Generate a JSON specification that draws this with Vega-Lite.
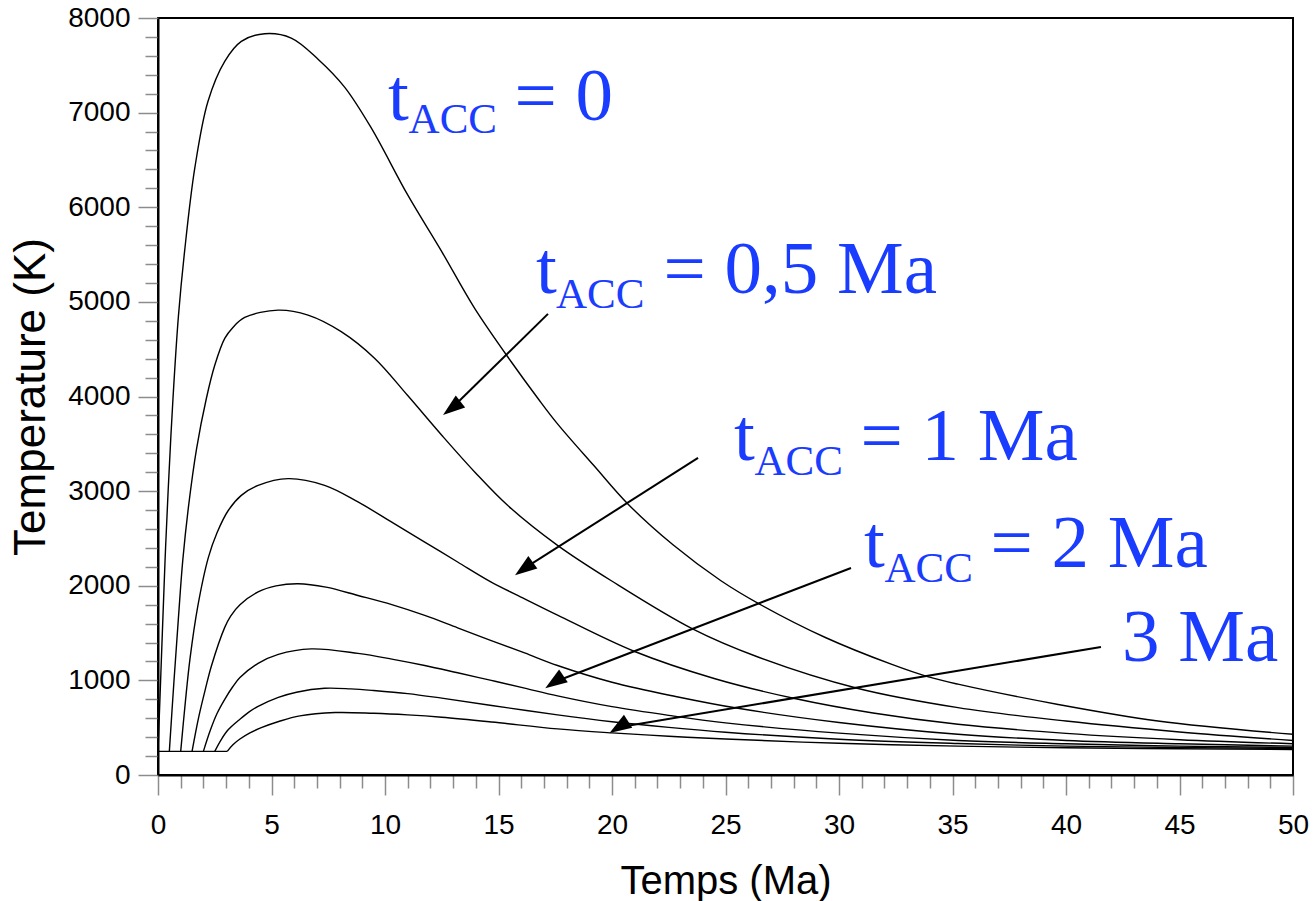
{
  "$schema": "https://vega.github.io/schema/vega-lite/v6.json",
  "width": 1135,
  "height": 757,
  "autosize": {"type": "none"},
  "padding": {"left": 158, "top": 18, "right": 22, "bottom": 126},
  "background": "white",
  "datasets": {
    "curves": [
      {"curve":"tacc 0","time":0,"temp":250},{"curve":"tacc 0","time":0.1,"temp":900},{"curve":"tacc 0","time":0.2,"temp":1560},{"curve":"tacc 0","time":0.31,"temp":2265},{"curve":"tacc 0","time":0.45,"temp":3020},{"curve":"tacc 0","time":0.66,"temp":3979},{"curve":"tacc 0","time":0.9,"temp":4850},{"curve":"tacc 0","time":1.17,"temp":5531},{"curve":"tacc 0","time":1.62,"temp":6413},{"curve":"tacc 0","time":2.2,"temp":7118},{"curve":"tacc 0","time":2.94,"temp":7542},{"curve":"tacc 0","time":3.67,"temp":7753},{"curve":"tacc 0","time":4.7,"temp":7834},{"curve":"tacc 0","time":5.87,"temp":7788},{"curve":"tacc 0","time":7.05,"temp":7565},{"curve":"tacc 0","time":8.22,"temp":7270},{"curve":"tacc 0","time":9.4,"temp":6836},{"curve":"tacc 0","time":11.0,"temp":6130},{"curve":"tacc 0","time":12.5,"temp":5531},{"curve":"tacc 0","time":13.95,"temp":4931},{"curve":"tacc 0","time":15.56,"temp":4367},{"curve":"tacc 0","time":16.74,"temp":3979},{"curve":"tacc 0","time":17.6,"temp":3711},{"curve":"tacc 0","time":19.2,"temp":3270},{"curve":"tacc 0","time":20.7,"temp":2864},{"curve":"tacc 0","time":22.7,"temp":2430},{"curve":"tacc 0","time":24.8,"temp":2053},{"curve":"tacc 0","time":26.5,"temp":1806},{"curve":"tacc 0","time":29.4,"temp":1453},{"curve":"tacc 0","time":32.3,"temp":1171},{"curve":"tacc 0","time":33.9,"temp":1040},{"curve":"tacc 0","time":35.24,"temp":960},{"curve":"tacc 0","time":39.6,"temp":748},{"curve":"tacc 0","time":44.05,"temp":571},{"curve":"tacc 0","time":50,"temp":430},

      {"curve":"tacc 0.5","time":0.5,"temp":250},{"curve":"tacc 0.5","time":0.7,"temp":980},{"curve":"tacc 0.5","time":0.9,"temp":1660},{"curve":"tacc 0.5","time":1.09,"temp":2265},{"curve":"tacc 0.5","time":1.35,"temp":2850},{"curve":"tacc 0.5","time":1.7,"temp":3450},{"curve":"tacc 0.5","time":2.13,"temp":3979},{"curve":"tacc 0.5","time":2.5,"temp":4330},{"curve":"tacc 0.5","time":2.94,"temp":4614},{"curve":"tacc 0.5","time":3.3,"temp":4730},{"curve":"tacc 0.5","time":3.82,"temp":4835},{"curve":"tacc 0.5","time":5.29,"temp":4913},{"curve":"tacc 0.5","time":6.61,"temp":4860},{"curve":"tacc 0.5","time":8.07,"temp":4685},{"curve":"tacc 0.5","time":9.55,"temp":4402},{"curve":"tacc 0.5","time":11.0,"temp":4010},{"curve":"tacc 0.5","time":12.5,"temp":3591},{"curve":"tacc 0.5","time":13.95,"temp":3203},{"curve":"tacc 0.5","time":15.4,"temp":2850},{"curve":"tacc 0.5","time":17.6,"temp":2427},{"curve":"tacc 0.5","time":19.97,"temp":2053},{"curve":"tacc 0.5","time":23.57,"temp":1542},{"curve":"tacc 0.5","time":26.4,"temp":1250},{"curve":"tacc 0.5","time":30.8,"temp":917},{"curve":"tacc 0.5","time":35.24,"temp":712},{"curve":"tacc 0.5","time":40,"temp":570},{"curve":"tacc 0.5","time":45,"temp":455},{"curve":"tacc 0.5","time":50,"temp":365},

      {"curve":"tacc 1","time":1.0,"temp":250},{"curve":"tacc 1","time":1.2,"temp":760},{"curve":"tacc 1","time":1.41,"temp":1230},{"curve":"tacc 1","time":1.75,"temp":1780},{"curve":"tacc 1","time":2.22,"temp":2300},{"curve":"tacc 1","time":2.6,"temp":2560},{"curve":"tacc 1","time":3.08,"temp":2790},{"curve":"tacc 1","time":3.67,"temp":2955},{"curve":"tacc 1","time":4.41,"temp":3060},{"curve":"tacc 1","time":5.73,"temp":3132},{"curve":"tacc 1","time":7.34,"temp":3061},{"curve":"tacc 1","time":8.81,"temp":2886},{"curve":"tacc 1","time":10.28,"temp":2674},{"curve":"tacc 1","time":11.75,"temp":2462},{"curve":"tacc 1","time":13.2,"temp":2251},{"curve":"tacc 1","time":14.68,"temp":2039},{"curve":"tacc 1","time":16.15,"temp":1862},{"curve":"tacc 1","time":17.6,"temp":1690},{"curve":"tacc 1","time":21.0,"temp":1305},{"curve":"tacc 1","time":24.5,"temp":1020},{"curve":"tacc 1","time":28.05,"temp":808},{"curve":"tacc 1","time":31.5,"temp":655},{"curve":"tacc 1","time":35.24,"temp":536},{"curve":"tacc 1","time":40,"temp":440},{"curve":"tacc 1","time":45,"temp":373},{"curve":"tacc 1","time":50,"temp":330},

      {"curve":"tacc 1.5","time":1.5,"temp":250},{"curve":"tacc 1.5","time":1.8,"temp":620},{"curve":"tacc 1.5","time":2.1,"temp":920},{"curve":"tacc 1.5","time":2.35,"temp":1150},{"curve":"tacc 1.5","time":2.94,"temp":1560},{"curve":"tacc 1.5","time":3.2,"temp":1680},{"curve":"tacc 1.5","time":3.61,"temp":1800},{"curve":"tacc 1.5","time":4.41,"temp":1935},{"curve":"tacc 1.5","time":5.2,"temp":1998},{"curve":"tacc 1.5","time":6.17,"temp":2021},{"curve":"tacc 1.5","time":7.4,"temp":1985},{"curve":"tacc 1.5","time":8.81,"temp":1897},{"curve":"tacc 1.5","time":10.3,"temp":1800},{"curve":"tacc 1.5","time":11.75,"temp":1686},{"curve":"tacc 1.5","time":13.2,"temp":1555},{"curve":"tacc 1.5","time":14.68,"temp":1421},{"curve":"tacc 1.5","time":16.15,"temp":1290},{"curve":"tacc 1.5","time":17.6,"temp":1157},{"curve":"tacc 1.5","time":20,"temp":980},{"curve":"tacc 1.5","time":22.8,"temp":830},{"curve":"tacc 1.5","time":25.55,"temp":705},{"curve":"tacc 1.5","time":30,"temp":555},{"curve":"tacc 1.5","time":35.24,"temp":430},{"curve":"tacc 1.5","time":40,"temp":365},{"curve":"tacc 1.5","time":45,"temp":330},{"curve":"tacc 1.5","time":50,"temp":305},

      {"curve":"tacc 2","time":2.0,"temp":250},{"curve":"tacc 2","time":2.3,"temp":470},{"curve":"tacc 2","time":2.6,"temp":650},{"curve":"tacc 2","time":2.94,"temp":800},{"curve":"tacc 2","time":3.3,"temp":935},{"curve":"tacc 2","time":3.61,"temp":1030},{"curve":"tacc 2","time":4.41,"temp":1180},{"curve":"tacc 2","time":5.3,"temp":1275},{"curve":"tacc 2","time":6.75,"temp":1333},{"curve":"tacc 2","time":8.81,"temp":1285},{"curve":"tacc 2","time":10.3,"temp":1225},{"curve":"tacc 2","time":11.75,"temp":1157},{"curve":"tacc 2","time":13.2,"temp":1080},{"curve":"tacc 2","time":14.68,"temp":1000},{"curve":"tacc 2","time":16.15,"temp":918},{"curve":"tacc 2","time":17.6,"temp":836},{"curve":"tacc 2","time":20,"temp":722},{"curve":"tacc 2","time":22.5,"temp":630},{"curve":"tacc 2","time":25,"temp":551},{"curve":"tacc 2","time":30,"temp":442},{"curve":"tacc 2","time":35.24,"temp":365},{"curve":"tacc 2","time":40,"temp":330},{"curve":"tacc 2","time":45,"temp":305},{"curve":"tacc 2","time":50,"temp":290},

      {"curve":"tacc 2.5","time":2.5,"temp":250},{"curve":"tacc 2.5","time":2.8,"temp":380},{"curve":"tacc 2.5","time":3.1,"temp":480},{"curve":"tacc 2.5","time":3.61,"temp":590},{"curve":"tacc 2.5","time":4.0,"temp":665},{"curve":"tacc 2.5","time":4.41,"temp":725},{"curve":"tacc 2.5","time":5.3,"temp":820},{"curve":"tacc 2.5","time":6.1,"temp":875},{"curve":"tacc 2.5","time":7.34,"temp":917},{"curve":"tacc 2.5","time":8.5,"temp":910},{"curve":"tacc 2.5","time":9.5,"temp":893},{"curve":"tacc 2.5","time":11,"temp":860},{"curve":"tacc 2.5","time":12.5,"temp":812},{"curve":"tacc 2.5","time":14.7,"temp":735},{"curve":"tacc 2.5","time":17.6,"temp":635},{"curve":"tacc 2.5","time":20,"temp":563},{"curve":"tacc 2.5","time":22.5,"temp":503},{"curve":"tacc 2.5","time":25,"temp":452},{"curve":"tacc 2.5","time":30,"temp":378},{"curve":"tacc 2.5","time":35.24,"temp":333},{"curve":"tacc 2.5","time":40,"temp":305},{"curve":"tacc 2.5","time":45,"temp":290},{"curve":"tacc 2.5","time":50,"temp":280},

      {"curve":"tacc 3","time":3.05,"temp":250},{"curve":"tacc 3","time":3.3,"temp":320},{"curve":"tacc 3","time":3.61,"temp":380},{"curve":"tacc 3","time":4.05,"temp":445},{"curve":"tacc 3","time":4.55,"temp":500},{"curve":"tacc 3","time":5.35,"temp":568},{"curve":"tacc 3","time":6.25,"temp":625},{"curve":"tacc 3","time":7.8,"temp":660},{"curve":"tacc 3","time":9.5,"temp":652},{"curve":"tacc 3","time":11,"temp":635},{"curve":"tacc 3","time":12.5,"temp":610},{"curve":"tacc 3","time":14.7,"temp":560},{"curve":"tacc 3","time":17.6,"temp":487},{"curve":"tacc 3","time":20,"temp":445},{"curve":"tacc 3","time":22.5,"temp":410},{"curve":"tacc 3","time":25,"temp":380},{"curve":"tacc 3","time":30,"temp":335},{"curve":"tacc 3","time":35.24,"temp":305},{"curve":"tacc 3","time":40,"temp":288},{"curve":"tacc 3","time":45,"temp":277},{"curve":"tacc 3","time":50,"temp":270},

      {"curve":"ambient","time":0,"temp":250},{"curve":"ambient","time":3.05,"temp":250}
    ],
    "arrows": [
      {"arrow":"a1","time":12.94,"temp":3876,"time2":17.18,"temp2":4873},
      {"arrow":"a2","time":16.12,"temp":2180,"time2":23.79,"temp2":3351},
      {"arrow":"a3","time":17.46,"temp":983,"time2":30.53,"temp2":2188},
      {"arrow":"a4","time":20.30,"temp":505,"time2":41.54,"temp2":1353}
    ],
    "labels": [
      {"time":10.13,"temp":6920,"text":"t","part":"main"},
      {"time":11.04,"temp":6782,"text":"ACC","part":"sub"},
      {"time":15.70,"temp":6920,"text":"= 0","part":"main"},
      {"time":16.65,"temp":5090,"text":"t","part":"main"},
      {"time":17.53,"temp":4931,"text":"ACC","part":"sub"},
      {"time":22.27,"temp":5090,"text":"= 0,5 Ma","part":"main"},
      {"time":25.37,"temp":3325,"text":"t","part":"main"},
      {"time":26.28,"temp":3166,"text":"ACC","part":"sub"},
      {"time":30.95,"temp":3325,"text":"= 1 Ma","part":"main"},
      {"time":31.10,"temp":2194,"text":"t","part":"main"},
      {"time":32.0,"temp":2035,"text":"ACC","part":"sub"},
      {"time":36.67,"temp":2194,"text":"= 2 Ma","part":"main"},
      {"time":42.47,"temp":1200,"text":"3 Ma","part":"main"}
    ]
  },
  "encoding": {
    "x": {
      "field": "time", "type": "quantitative", "title": "Temps (Ma)",
      "scale": {"domain": [0, 50], "nice": false, "zero": false},
      "axis": {
        "values": [0,1,2,3,4,5,6,7,8,9,10,11,12,13,14,15,16,17,18,19,20,21,22,23,24,25,26,27,28,29,30,31,32,33,34,35,36,37,38,39,40,41,42,43,44,45,46,47,48,49,50],
        "format": "d",
        "labelExpr": "datum.value % 5 === 0 ? datum.label : ''",
        "tickSize": {"condition": {"test": "datum.value % 5 === 0", "value": 20}, "value": 13},
        "labelPadding": 16,
        "titlePadding": 22,
        "titleFontSize": 40
      }
    },
    "y": {
      "field": "temp", "type": "quantitative", "title": "Temperature (K)",
      "scale": {"domain": [0, 8000], "nice": false},
      "axis": {
        "values": [0,200,400,600,800,1000,1200,1400,1600,1800,2000,2200,2400,2600,2800,3000,3200,3400,3600,3800,4000,4200,4400,4600,4800,5000,5200,5400,5600,5800,6000,6200,6400,6600,6800,7000,7200,7400,7600,7800,8000],
        "format": "d",
        "labelExpr": "datum.value % 1000 === 0 ? datum.label : ''",
        "tickSize": {"condition": {"test": "datum.value % 1000 === 0", "value": 20}, "value": 13},
        "labelPadding": 8,
        "titlePadding": 14,
        "titleFontSize": 44
      }
    }
  },
  "layer": [
    {
      "data": {"name": "curves"},
      "mark": {"type": "line", "color": "black", "strokeWidth": 1.4, "interpolate": "catmull-rom", "clip": true},
      "encoding": {
        "detail": {"field": "curve", "type": "nominal"}
      }
    },
    {
      "data": {"name": "arrows"},
      "mark": {"type": "rule", "color": "black", "strokeWidth": 2},
      "encoding": {
        "x2": {"field": "time2"},
        "y2": {"field": "temp2"}
      }
    },
    {
      "data": {"name": "arrows"},
      "mark": {"type": "point", "shape": "M0,-1L-0.7,1L0.7,1Z", "filled": true, "color": "black", "size": 484, "strokeWidth": 0, "opacity": 1},
      "encoding": {
        "angle": {"field": "arrow", "type": "nominal", "scale": {"domain": ["a1","a2","a3","a4"], "range": [232.4, 237.5, 249.0, 260.6]}, "legend": null}
      }
    },
    {
      "data": {"name": "labels"},
      "mark": {"type": "text", "align": "left", "baseline": "alphabetic", "font": "Liberation Serif", "color": "#1a3cff"},
      "encoding": {
        "text": {"field": "text", "type": "nominal"},
        "size": {"field": "part", "type": "nominal", "scale": {"domain": ["main","sub"], "range": [75, 43]}, "legend": null}
      }
    }
  ],
  "config": {
    "view": {"stroke": "black", "strokeWidth": 2},
    "axis": {
      "grid": false,
      "domainColor": "black",
      "domainWidth": 2,
      "tickColor": "#8c8c8c",
      "tickWidth": 1.5,
      "labelFont": "Liberation Sans",
      "labelFontSize": 28,
      "labelColor": "black",
      "labelFlush": false,
      "labelOverlap": false,
      "titleFont": "Liberation Sans",
      "titleFontWeight": "normal",
      "titleColor": "black"
    }
  }
}
